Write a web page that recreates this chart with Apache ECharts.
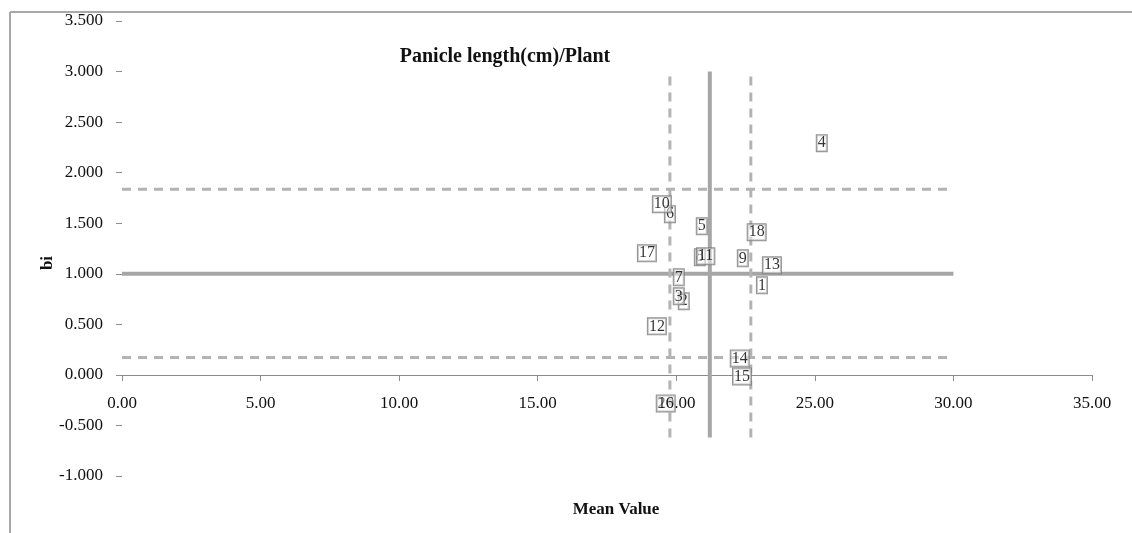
<!DOCTYPE html>
<html>
<head>
<meta charset="utf-8">
<script src="https://cdn.jsdelivr.net/npm/echarts@6/dist/echarts.min.js"></script>
<style>html,body{margin:0;padding:0;background:#fff;}#c{width:1132px;height:533px;}</style>
</head>
<body>
<div id="c"></div>
<script>
// Genotype labels and their values
const genotypes = ['1','2','3','4','5','6','7','8','9','10','11','12','13','14','15','16','17','18'];
const meanValues = [23.09, 20.27, 20.09, 25.25, 20.92, 19.77, 20.09, 20.85, 22.40, 19.48, 21.06, 19.30, 23.45, 22.29, 22.37, 19.62, 18.94, 22.90];
const biValues   = [0.886, 0.728, 0.777, 2.292, 1.470, 1.589, 0.965, 1.163, 1.153, 1.688, 1.173, 0.480, 1.084, 0.163, -0.015, -0.282, 1.203, 1.411];

// Reference lines
const grandMean = 21.21;
const meanLow = 19.77, meanHigh = 22.69;
const biRef = 1.0, biHigh = 1.837, biLow = 0.173;
const lineXRange = [0, 30];
const lineYRange = [-0.62, 3.0];

const serif = '"Liberation Serif", "DejaVu Serif", serif';

const pts = genotypes.map((g, i) => ({ name: g, value: [meanValues[i], biValues[i]] }));

function hLine(y, dashed) {
  return {
    type: 'line', silent: true, symbol: 'none', z: 1,
    data: [[lineXRange[0], y], [lineXRange[1], y]],
    lineStyle: dashed ? { color: '#b3b3b3', width: 3, type: [9, 7] } : { color: '#a6a6a6', width: 4 }
  };
}
function vLine(x, dashed) {
  return {
    type: 'line', silent: true, symbol: 'none', z: 1,
    data: [[x, lineYRange[0]], [x, lineYRange[1]]],
    lineStyle: dashed ? { color: '#b3b3b3', width: 3, type: [9, 7] } : { color: '#a6a6a6', width: 4 }
  };
}

const chart = echarts.init(document.getElementById('c'));
chart.setOption({
  animation: false,
  backgroundColor: '#fff',
  grid: { left: 122, right: 40, top: 21, bottom: 57, containLabel: false },
  xAxis: {
    type: 'value', min: 0, max: 35, interval: 5,
    offset: -101,
    axisLine: { onZero: false, lineStyle: { color: '#8c8c8c', width: 1 } },
    axisTick: { show: true, inside: false, length: 6, lineStyle: { color: '#8c8c8c' } },
    axisLabel: { formatter: v => v.toFixed(2), margin: 20, fontFamily: serif, fontSize: 17, color: '#111' },
    splitLine: { show: false }
  },
  yAxis: {
    type: 'value', min: -1, max: 3.5, interval: 0.5,
    axisLine: { show: false },
    axisTick: { show: true, length: 6, lineStyle: { color: '#8c8c8c' } },
    axisLabel: { formatter: v => v.toFixed(3), margin: 19, fontFamily: serif, fontSize: 17, color: '#111' },
    splitLine: { show: false }
  },
  graphic: [
    { type: 'line', shape: { x1: 10, y1: 12, x2: 1132, y2: 12 }, style: { stroke: '#a8a8a8', lineWidth: 2 } },
    { type: 'line', shape: { x1: 10, y1: 12, x2: 10, y2: 533 }, style: { stroke: '#a8a8a8', lineWidth: 2 } },
    { type: 'text', x: 505, y: 57, style: { text: 'Panicle length(cm)/Plant', font: 'bold 20px ' + serif, fill: '#111', textAlign: 'center', textVerticalAlign: 'middle' } },
    { type: 'text', x: 616, y: 510, style: { text: 'Mean Value', font: 'bold 17px ' + serif, fill: '#111', textAlign: 'center', textVerticalAlign: 'middle' } },
    { type: 'text', x: 48, y: 263, rotation: Math.PI / 2, style: { text: 'bi', font: 'bold 17px ' + serif, fill: '#111', textAlign: 'center', textVerticalAlign: 'middle' } }
  ],
  series: [
    hLine(biRef, false),
    hLine(biHigh, true),
    hLine(biLow, true),
    vLine(grandMean, false),
    vLine(meanLow, true),
    vLine(meanHigh, true),
    {
      type: 'scatter', z: 5, symbol: 'rect', symbolSize: 0,
      data: pts,
      label: {
        show: true, position: 'inside', formatter: p => p.name,
        fontFamily: serif, fontSize: 16, color: '#000',
        backgroundColor: 'rgba(255,255,255,0.6)',
        borderColor: '#777', borderWidth: 1, padding: [0, 1, 0, 1]
      }
    }
  ]
});
</script>
</body>
</html>
